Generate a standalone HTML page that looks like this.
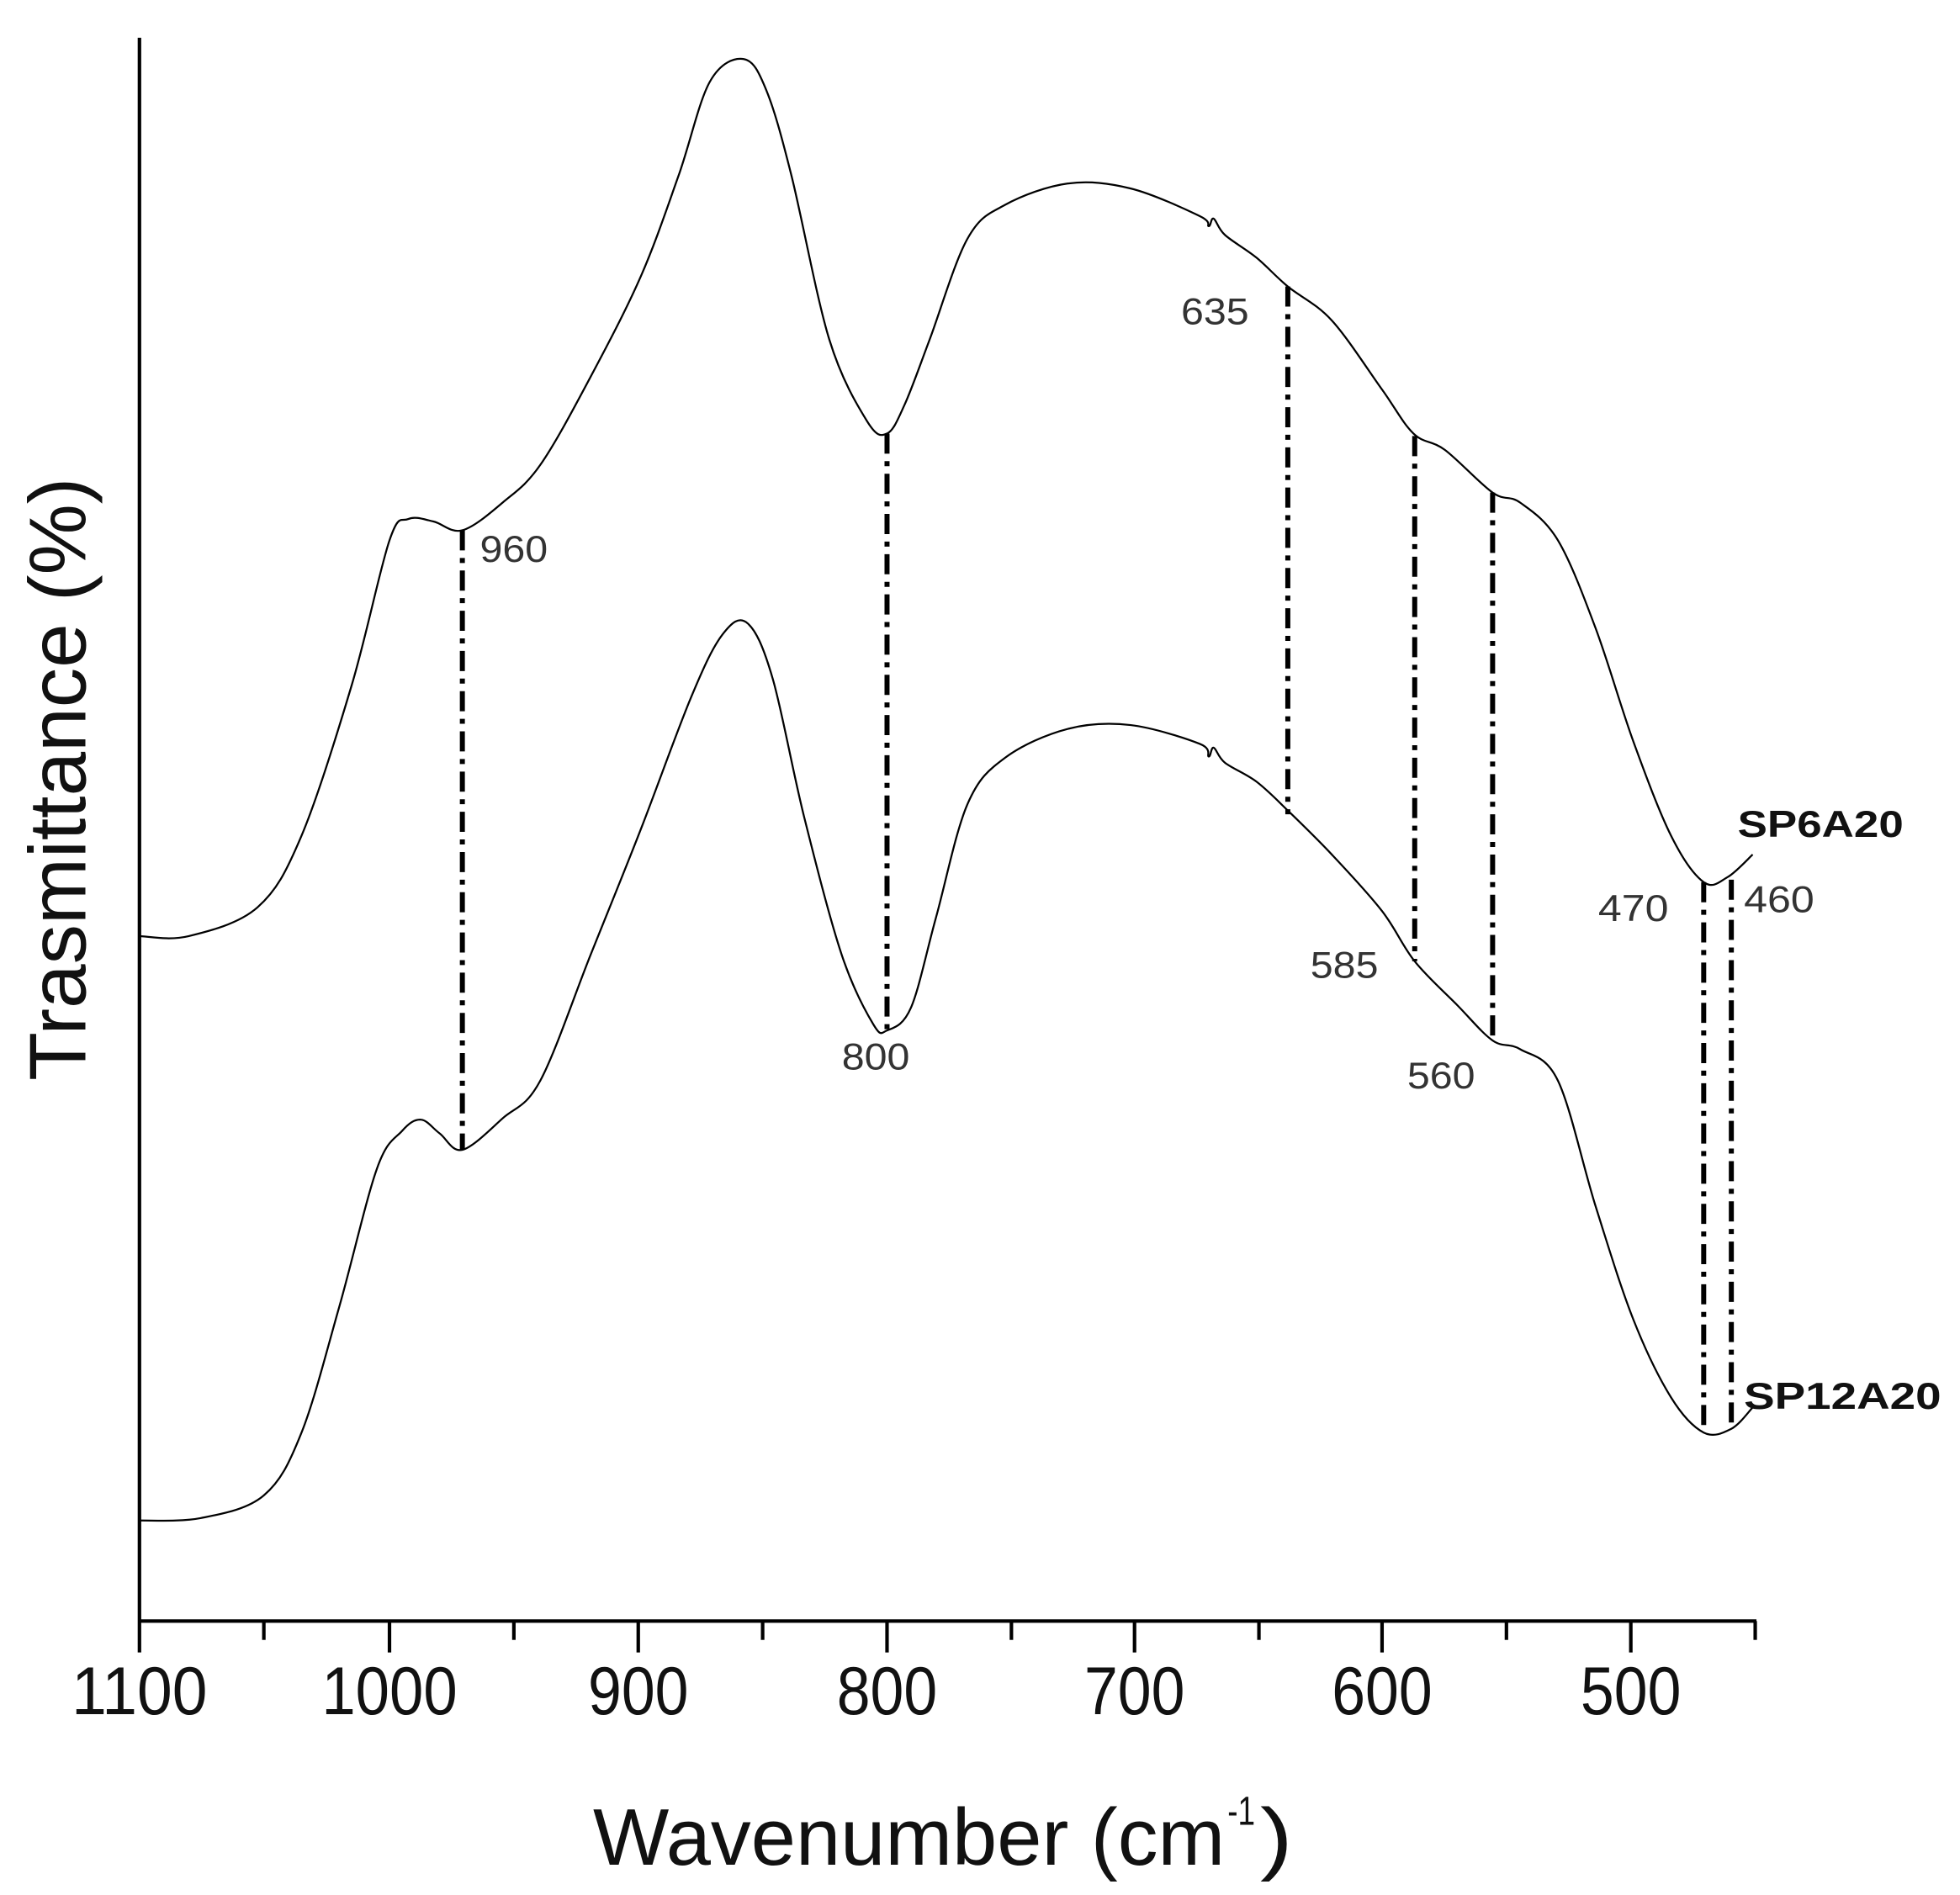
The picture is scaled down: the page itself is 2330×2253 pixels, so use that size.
<!DOCTYPE html>
<html><head><meta charset="utf-8"><style>
html,body{margin:0;padding:0;background:#fff;}
svg{display:block;}
</style></head><body>
<svg id="s" width="2330" height="2253" viewBox="0 0 1560 1508" preserveAspectRatio="none" xmlns="http://www.w3.org/2000/svg" font-family="Liberation Sans, Arial, sans-serif">
<rect width="1560" height="1508" fill="#fff"/>
<g stroke="#000" stroke-width="2.8" fill="none">
<line x1="111" y1="30" x2="111" y2="1315"/>
<line x1="110" y1="1290" x2="1398" y2="1290"/>
<line x1="310" y1="1290" x2="310" y2="1315"/>
<line x1="508" y1="1290" x2="508" y2="1315"/>
<line x1="706" y1="1290" x2="706" y2="1315"/>
<line x1="903" y1="1290" x2="903" y2="1315"/>
<line x1="1100" y1="1290" x2="1100" y2="1315"/>
<line x1="1298" y1="1290" x2="1298" y2="1315"/>
<line x1="210" y1="1290" x2="210" y2="1305"/>
<line x1="409" y1="1290" x2="409" y2="1305"/>
<line x1="607" y1="1290" x2="607" y2="1305"/>
<line x1="805" y1="1290" x2="805" y2="1305"/>
<line x1="1002" y1="1290" x2="1002" y2="1305"/>
<line x1="1199" y1="1290" x2="1199" y2="1305"/>
<line x1="1397" y1="1290" x2="1397" y2="1305"/>
</g>
<g font-size="54" fill="#111" text-anchor="middle">
<text x="111" y="1364" textLength="108" lengthAdjust="spacingAndGlyphs">1100</text>
<text x="310" y="1364" textLength="108" lengthAdjust="spacingAndGlyphs">1000</text>
<text x="508" y="1364" textLength="80" lengthAdjust="spacingAndGlyphs">900</text>
<text x="706" y="1364" textLength="80" lengthAdjust="spacingAndGlyphs">800</text>
<text x="903" y="1364" textLength="80" lengthAdjust="spacingAndGlyphs">700</text>
<text x="1100" y="1364" textLength="80" lengthAdjust="spacingAndGlyphs">600</text>
<text x="1298" y="1364" textLength="80" lengthAdjust="spacingAndGlyphs">500</text>
</g>
<g font-size="64" fill="#111">
<text x="472" y="1484" textLength="503" lengthAdjust="spacingAndGlyphs">Wavenumber (cm</text>
<text x="977" y="1452" font-size="32" textLength="22" lengthAdjust="spacingAndGlyphs">-1</text>
<text x="1003" y="1484" textLength="26" lengthAdjust="spacingAndGlyphs">)</text>
<text transform="translate(68,620) rotate(-90)" text-anchor="middle" textLength="480" lengthAdjust="spacingAndGlyphs">Trasmittance (%)</text>
</g>
<g id="curves" stroke="#000" stroke-width="1.5" fill="none"></g>
<g stroke="#000" stroke-width="4" stroke-dasharray="16 6 4 6" fill="none">
<line x1="368" y1="422" x2="368" y2="915"/>
<line x1="706" y1="345" x2="706" y2="820"/>
<line x1="1025" y1="228" x2="1025" y2="648"/>
<line x1="1126" y1="347" x2="1126" y2="765"/>
<line x1="1188" y1="392" x2="1188" y2="828"/>
<line x1="1356" y1="702" x2="1356" y2="1140"/>
<line x1="1378" y1="700" x2="1378" y2="1138"/>
</g>
<g font-size="30" fill="#333">
<text x="382" y="447" textLength="54" lengthAdjust="spacingAndGlyphs">960</text>
<text x="940" y="258" textLength="54" lengthAdjust="spacingAndGlyphs">635</text>
<text x="670" y="851" textLength="54" lengthAdjust="spacingAndGlyphs">800</text>
<text x="1043" y="778" textLength="54" lengthAdjust="spacingAndGlyphs">585</text>
<text x="1120" y="866" textLength="54" lengthAdjust="spacingAndGlyphs">560</text>
<text x="1272" y="733" textLength="56" lengthAdjust="spacingAndGlyphs">470</text>
<text x="1388" y="726" textLength="56" lengthAdjust="spacingAndGlyphs">460</text>
</g>
<g font-size="30" font-weight="bold" fill="#111">
<text x="1383" y="666" textLength="132" lengthAdjust="spacingAndGlyphs">SP6A20</text>
<text x="1388" y="1121" textLength="157" lengthAdjust="spacingAndGlyphs">SP12A20</text>
</g>
</svg>
<script>
function path(p){
 var d="M"+p[0][0]+","+p[0][1];
 for(var i=0;i<p.length-1;i++){
  var p0=p[Math.max(i-1,0)],p1=p[i],p2=p[i+1],p3=p[Math.min(i+2,p.length-1)];
  var c1x=p1[0]+(p2[0]-p0[0])/6,c1y=p1[1]+(p2[1]-p0[1])/6;
  var c2x=p2[0]-(p3[0]-p1[0])/6,c2y=p2[1]-(p3[1]-p1[1])/6;
  d+=" C"+c1x.toFixed(1)+","+c1y.toFixed(1)+" "+c2x.toFixed(1)+","+c2y.toFixed(1)+" "+p2[0]+","+p2[1];
 }
 return d;
}
var a=[[111,745],[150,745],[205,722],[240,665],[280,545],[310,430],[325,413],[345,415],[368,422],[400,400],[430,370],[470,300],[510,220],[540,140],[565,65],[592,47],[610,72],[630,140],[660,270],[690,335],[706,345],[720,322],[740,270],[770,190],[800,163],[850,146],[900,150],[955,172],[962,180],[966,174],[975,187],[1000,205],[1025,228],[1060,255],[1100,310],[1125,345],[1150,358],[1188,392],[1210,400],[1240,430],[1270,500],[1300,590],[1330,665],[1356,702],[1375,698],[1395,680]];
var b=[[111,1210],[160,1208],[210,1190],[240,1140],[270,1040],[300,930],[320,900],[335,891],[350,902],[368,915],[400,890],[430,860],[470,760],[510,660],[550,555],[575,505],[595,496],[615,540],[640,650],[670,760],[695,815],[706,820],[725,802],[745,730],[770,640],[800,603],[850,580],[900,577],[955,592],[962,602],[966,595],[975,607],[1000,622],[1025,645],[1060,680],[1100,725],[1126,765],[1160,800],[1188,828],[1210,835],[1240,860],[1270,960],[1300,1050],[1330,1112],[1356,1140],[1378,1137],[1395,1120]];
var g=document.getElementById("curves");
[a,b].forEach(function(p){var e=document.createElementNS("http://www.w3.org/2000/svg","path");e.setAttribute("d",path(p));g.appendChild(e);});
</script>
</body></html>
